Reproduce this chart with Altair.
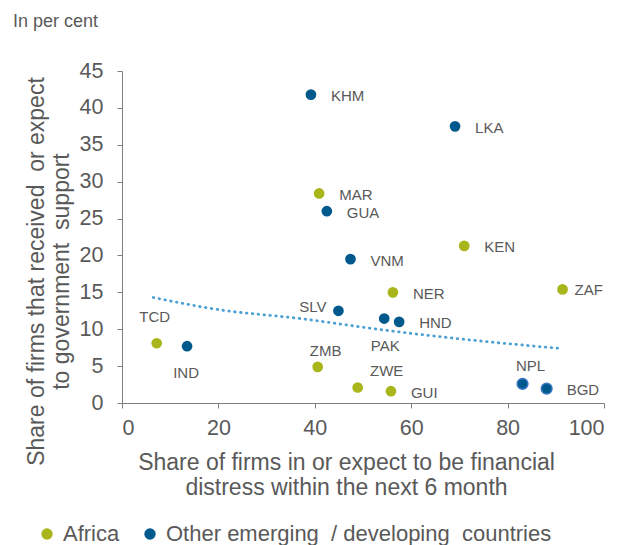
import altair as alt
import pandas as pd

# ---- data ----
codes = ["KHM", "LKA", "MAR", "GUA", "KEN", "VNM", "NER", "ZAF", "SLV",
         "PAK", "HND", "TCD", "IND", "ZMB", "ZWE", "GUI", "NPL", "BGD"]
distress = [39.2, 69.1, 40.9, 42.5, 71.0, 47.4, 56.2, 91.4, 44.9,
            54.4, 57.5, 7.2, 13.5, 40.6, 48.9, 55.8, 83.1, 88.1]
support = [41.8, 37.5, 28.4, 26.0, 21.3, 19.5, 15.0, 15.4, 12.5,
           11.45, 11.0, 8.1, 7.7, 4.9, 2.1, 1.6, 2.6, 1.95]
AFR = "Africa"
OTH = "Other emerging\u00a0 / developing\u00a0 countries"
region = [OTH, OTH, AFR, OTH, AFR, OTH, AFR, AFR, OTH,
          OTH, OTH, AFR, OTH, AFR, AFR, AFR, OTH, OTH]

trend_x = [6.5, 19.6, 36.9, 54.2, 71.5, 90.9]
trend_y = [14.3, 12.7, 11.45, 9.9, 8.6, 7.4]

x_ticks = [0, 20, 40, 60, 80, 100]
y_ticks = [0, 5, 10, 15, 20, 25, 30, 35, 40, 45]

df = pd.DataFrame({"code": codes, "x": distress, "y": support, "region": region})
tdf = pd.DataFrame({"x": trend_x, "y": trend_y})

GREEN = "#a8b61c"
BLUE = "#00598c"
GRAY = "#595959"
FONT = "Liberation Sans"

xs = alt.Scale(domain=[0, 100], nice=False)
ys = alt.Scale(domain=[0, 45], nice=False)

X = alt.X("x:Q", scale=xs,
          axis=alt.Axis(values=x_ticks, labelOverlap=False,
                        title=["Share of firms in or expect to be financial",
                               "distress within the next 6 month"],
                        titleX=224, titleY=66, titleBaseline="alphabetic",
                        titleAlign="center", titleAnchor="start"))
Y = alt.Y("y:Q", scale=ys,
          axis=alt.Axis(values=y_ticks, labelOverlap=False,
                        title=["Share of firms that received\u00a0 or expect",
                               "to government\u00a0 support"],
                        titleX=-79, titleY=200, titleBaseline="alphabetic",
                        titleAlign="center", titleAngle=-90,
                        titleAnchor="start"))

trend = alt.Chart(tdf).mark_line(
    color="#4aa0d2", strokeWidth=2.8, strokeDash=[0.5, 5.4], strokeCap="round",
    interpolate="monotone"
).encode(x=X, y=Y)

points = alt.Chart(df).mark_circle(size=115, opacity=1).encode(
    x=X, y=Y,
    color=alt.Color("region:N",
                    scale=alt.Scale(domain=[AFR, OTH], range=[GREEN, BLUE]),
                    legend=alt.Legend(title=None, orient="none",
                                      direction="horizontal",
                                      legendX=-86, legendY=452,
                                      symbolType="circle", symbolSize=130,
                                      labelFontSize=22, labelColor=GRAY,
                                      labelFont=FONT, labelLimit=600,
                                      labelOffset=5, columnPadding=19)),
)

ring = alt.Chart(df).transform_filter(
    alt.FieldOneOfPredicate(field="code", oneOf=["NPL", "BGD"])
).mark_circle(size=115, opacity=1, fill=BLUE, stroke="#3b78c4",
              strokeWidth=1.5).encode(x=X, y=Y)


def labels(which, dx, dy, align):
    return alt.Chart(df).transform_filter(
        alt.FieldOneOfPredicate(field="code", oneOf=which)
    ).mark_text(dx=dx, dy=dy, align=align, baseline="middle",
                fontSize=15, font=FONT, color=GRAY).encode(
        x=X, y=Y, text="code:N")


label_layers = [
    labels(["KHM", "LKA", "MAR", "GUA", "KEN", "VNM", "NER", "HND", "GUI", "BGD"],
           20, 1.5, "left"),
    labels(["ZAF"], 12, 0.5, "left"),
    labels(["SLV"], -12, -4, "right"),
    labels(["TCD"], -2, -26, "center"),
    labels(["IND"], -1, 27, "center"),
    labels(["PAK"], 1, 27, "center"),
    labels(["ZMB"], 8, -16, "center"),
    labels(["NPL"], 8, -18, "center"),
    labels(["ZWE"], 29, -17, "center"),
]

chart = alt.layer(trend, points, ring, *label_layers).properties(
    width=482, height=332,
    autosize=alt.AutoSizeParams(type="none"),
    padding={"left": 114, "top": 63, "right": 22, "bottom": 142},
    title=alt.TitleParams("In per cent", anchor="start", frame="group",
                          dx=-109, dy=-25, fontSize=18, font=FONT,
                          color=GRAY, fontWeight="normal"),
).configure_view(stroke=None).configure_axis(
    grid=False, domainColor="#7f7f7f", tickColor="#7f7f7f", tickSize=5,
    labelFont=FONT, labelFontSize=21.5, labelColor=GRAY,
    titleFont=FONT, titleFontSize=23, titleColor=GRAY, titleFontWeight="normal",
    titleLineHeight=25,
).configure_axisX(labelPadding=9).configure_axisY(labelPadding=14)

chart.save("out.html", embed_options={"renderer": "svg", "actions": False})
